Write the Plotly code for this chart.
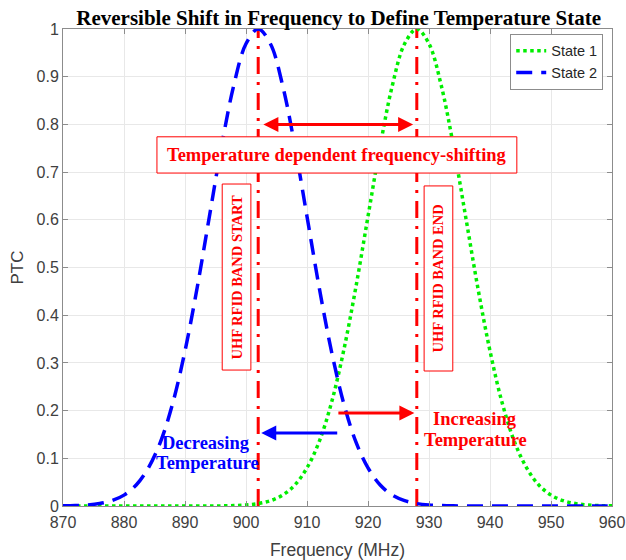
import plotly.graph_objects as go

freq_mhz = [870, 872, 874, 876, 878, 880, 882, 884, 886, 888, 890, 892, 894, 896, 898,
            900, 902, 904, 906, 908, 910, 912, 914, 916, 918, 920, 922, 924, 926, 928,
            930, 932, 934, 936, 938, 940, 942, 944, 946, 948, 950, 952, 954, 956, 958, 960]

state1_ptc = [0, 0, 0, 0, 0, 0, 0, 0, 0, 0, 0, 0, 0,
              0.0003, 0.0009, 0.0022, 0.0051, 0.0111, 0.0228, 0.044, 0.080, 0.135, 0.216,
              0.325, 0.458, 0.607, 0.755, 0.882, 0.969, 1.0, 0.969, 0.882, 0.755, 0.607,
              0.458, 0.325, 0.216, 0.135, 0.080, 0.044, 0.0228, 0.0111, 0.0051, 0.0022,
              0.0009, 0.0003]

state2_ptc = [0.0003, 0.0009, 0.0022, 0.0051, 0.0111, 0.0228, 0.044, 0.080, 0.135, 0.216,
              0.325, 0.458, 0.607, 0.755, 0.882, 0.969, 1.0, 0.969, 0.882, 0.755, 0.607,
              0.458, 0.325, 0.216, 0.135, 0.080, 0.044, 0.0228, 0.0111, 0.0051, 0.0022,
              0.0009, 0.0003,
              0, 0, 0, 0, 0, 0, 0, 0, 0, 0, 0, 0, 0]

band_start = 902
band_end = 928
x_ticks = [870, 880, 890, 900, 910, 920, 930, 940, 950, 960]
y_ticks = [0, 0.1, 0.2, 0.3, 0.4, 0.5, 0.6, 0.7, 0.8, 0.9, 1]
y_ticktext = ["0", "0.1", "0.2", "0.3", "0.4", "0.5", "0.6", "0.7", "0.8", "0.9", "1"]

serif = "Liberation Serif"
sans = "Liberation Sans"
RED = "#ff0000"
BLUE = "#0000ff"

fig = go.Figure()

for xv in [band_start, band_end]:
    fig.add_trace(go.Scatter(x=[xv, xv], y=[0, 1], mode="lines",
                             line=dict(color=RED, width=3, dash="17px,8px,3px,8px"),
                             showlegend=False, hoverinfo="skip"))

fig.add_trace(go.Scatter(x=freq_mhz, y=state1_ptc, mode="lines", name="State 1",
                         line=dict(color="#00ee00", width=3.5, dash="dot", shape="spline")))
fig.add_trace(go.Scatter(x=freq_mhz, y=state2_ptc, mode="lines", name="State 2",
                         line=dict(color=BLUE, width=3.5, dash="16px,9px", shape="spline")))

shapes = [
    dict(type="rect", xref="x", yref="y", x0=885.4, x1=944.4, y0=0.698, y1=0.774,
         line=dict(color=RED, width=1), fillcolor="white", layer="above"),
    dict(type="rect", xref="x", yref="y", x0=896.1, x1=900.8, y0=0.285, y1=0.675,
         line=dict(color=RED, width=1), fillcolor="white", layer="above"),
    dict(type="rect", xref="x", yref="y", x0=929.2, x1=933.9, y0=0.283, y1=0.671,
         line=dict(color=RED, width=1), fillcolor="white", layer="above"),
]

ann = []
ann.append(dict(x=band_end - 0.6, y=0.8, ax=band_start + 0.6, ay=0.8, xref="x", yref="y",
                axref="x", ayref="y", text="", showarrow=True, arrowhead=2, startarrowhead=2,
                arrowside="end+start", arrowwidth=3, arrowsize=1, startarrowsize=1,
                arrowcolor=RED))
ann.append(dict(x=914.9, y=0.736, xref="x", yref="y", showarrow=False,
                text="<b>Temperature dependent frequency-shifting</b>",
                font=dict(family=serif, size=18.5, color=RED)))
ann.append(dict(x=898.45, y=0.48, xref="x", yref="y", showarrow=False, textangle=-90,
                text="<b>UHF RFID BAND START</b>",
                font=dict(family=serif, size=14.5, color=RED)))
ann.append(dict(x=931.55, y=0.478, xref="x", yref="y", showarrow=False, textangle=-90,
                text="<b>UHF RFID BAND END</b>",
                font=dict(family=serif, size=14.5, color=RED)))
ann.append(dict(x=band_start + 0.5, y=0.153, ax=915.2, ay=0.153, xref="x", yref="y",
                axref="x", ayref="y", text="", showarrow=True, arrowhead=2,
                arrowwidth=3, arrowsize=1, arrowcolor=BLUE))
ann.append(dict(x=band_end - 0.4, y=0.195, ax=914.9, ay=0.195, xref="x", yref="y",
                axref="x", ayref="y", text="", showarrow=True, arrowhead=2,
                arrowwidth=3, arrowsize=1, arrowcolor=RED))
for txt, xv, yv, col in [("Decreasing", 893.5, 0.132, BLUE), ("Temperature", 893.7, 0.090, BLUE),
                         ("Increasing", 937.5, 0.182, RED), ("Temperature", 937.7, 0.138, RED)]:
    ann.append(dict(x=xv, y=yv, xref="x", yref="y", showarrow=False,
                    text="<b>" + txt + "</b>",
                    font=dict(family=serif, size=18.5, color=col)))

fig.update_layout(
    width=626, height=560,
    margin=dict(l=63, r=14, t=29, b=54),
    paper_bgcolor="white", plot_bgcolor="white",
    title=dict(text="<b>Reversible Shift in Frequency to Define Temperature State</b>",
               x=0.541, xanchor="center", y=0.969, yanchor="middle",
               font=dict(family=serif, size=21, color="black")),
    xaxis=dict(range=[870, 960], tickvals=x_ticks, showgrid=True, gridcolor="#e8e8e8",
               showline=True, linecolor="#8c8c8c", linewidth=1, mirror="ticks",
               ticks="inside", ticklen=5, tickcolor="#8c8c8c", zeroline=False,
               automargin=False, ticklabelstandoff=2, ticklabeloverflow="allow",
               tickfont=dict(family=sans, size=16, color="#404040"),
               title=dict(text="Frequency (MHz)", standoff=14,
                          font=dict(family=sans, size=17.5, color="#404040"))),
    yaxis=dict(range=[0, 1], tickvals=y_ticks, ticktext=y_ticktext,
               showgrid=True, gridcolor="#e8e8e8",
               showline=True, linecolor="#8c8c8c", linewidth=1, mirror="ticks",
               ticks="inside", ticklen=5, tickcolor="#8c8c8c", zeroline=False,
               automargin=False, ticklabeloverflow="allow",
               tickfont=dict(family=sans, size=16, color="#404040"),
               title=dict(text="PTC", standoff=8,
                          font=dict(family=sans, size=17, color="#404040"))),
    legend=dict(x=0.984, y=0.99, xanchor="right", yanchor="top",
                bgcolor="white", bordercolor="#8c8c8c", borderwidth=1,
                font=dict(family=sans, size=14.5, color="#262626"),
                tracegroupgap=0, itemwidth=30),
    shapes=shapes,
    annotations=ann,
    showlegend=True,
)

fig.write_html("out.html", config={"displayModeBar": False},
               post_script="document.body.style.margin='0';")
